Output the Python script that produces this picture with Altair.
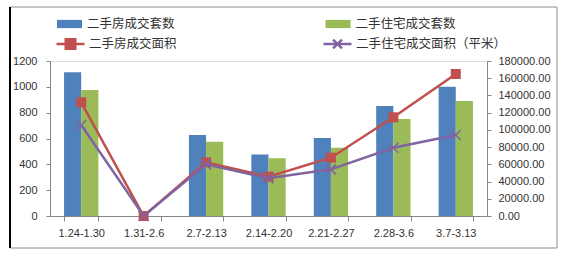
import altair as alt
import pandas as pd

categories = ["1.24-1.30", "1.31-2.6", "2.7-2.13", "2.14-2.20", "2.21-2.27", "2.28-3.6", "3.7-3.13"]
house_sets = [1112, 0, 627, 477, 604, 852, 1001]
resi_sets = [975, 0, 575, 447, 529, 751, 890]
house_area = [132000, 0, 62300, 45700, 67700, 114600, 164900]
resi_area = [105700, 0, 60000, 43800, 54200, 79300, 94000]
bar_series = ["二手房成交套数", "二手住宅成交套数"]
line_series = ["二手房成交面积", "二手住宅成交面积（平米）"]
left_ticks = [0, 200, 400, 600, 800, 1000, 1200]
right_ticks = [0, 20000, 40000, 60000, 80000, 100000, 120000, 140000, 160000, 180000]

BLUE, GREEN, RED, PURPLE = "#4F81BD", "#9BBB59", "#C0504D", "#8064A2"
AXIS_GRAY = "#868686"
TXT = "#333333"
FONT = "Liberation Sans"
CJK = "Noto Sans CJK SC"

bars_df = pd.DataFrame({
    "cat": categories * 2,
    "series": [bar_series[0]] * len(categories) + [bar_series[1]] * len(categories),
    "value": house_sets + resi_sets,
})
red_df = pd.DataFrame({"cat": categories, "s": line_series[0], "value": house_area})
purple_df = pd.DataFrame({"cat": categories, "s2": line_series[1], "value": resi_area})

xscale = alt.Scale(domain=categories, paddingInner=0.45, paddingOuter=0.225)
x_axis = alt.Axis(title=None, tickBand="extent", labelAngle=0, grid=False,
                  domainColor=AXIS_GRAY, tickColor=AXIS_GRAY, tickSize=5,
                  labelFont=FONT, labelFontSize=11, labelColor=TXT, labelPadding=6)
area_scale = alt.Scale(domain=[0, 180000])

leg_common = dict(orient="none", title=None, padding=0, labelFont=CJK, labelFontSize=12.5,
                  labelColor=TXT)

bars = alt.Chart(bars_df).mark_bar().encode(
    x=alt.X("cat:N", scale=xscale, axis=x_axis),
    xOffset=alt.XOffset("series:N", scale=alt.Scale(domain=bar_series, paddingInner=0, paddingOuter=0)),
    y=alt.Y("value:Q", scale=alt.Scale(domain=[0, 1200]),
            axis=alt.Axis(title=None, values=left_ticks, format="d", grid=False, domainColor=AXIS_GRAY,
                          tickColor=AXIS_GRAY, tickSize=4, labelPadding=9, labelFont=FONT,
                          labelFontSize=11, labelColor=TXT)),
    color=alt.Color("series:N", scale=alt.Scale(domain=bar_series, range=[BLUE, GREEN]),
                    legend=alt.Legend(legendX=6, legendY=-50.5, columns=2, columnPadding=149.5,
                                      labelOffset=4,
                                      symbolType="M-1,-0.33H1V0.33H-1Z", symbolSize=625,
                                      symbolOpacity=1, **leg_common)),
)

red_line = alt.Chart(red_df).mark_line(strokeWidth=2.5).encode(
    x=alt.X("cat:N", scale=xscale),
    y=alt.Y("value:Q", scale=area_scale,
            axis=alt.Axis(orient="right", title=None, values=right_ticks, format=".2f", grid=False,
                          domainColor=AXIS_GRAY, tickColor=AXIS_GRAY, tickSize=4, labelPadding=7,
                          labelFont=FONT, labelFontSize=11, labelColor=TXT)),
    stroke=alt.Stroke("s:N", scale=alt.Scale(domain=[line_series[0]], range=[RED]),
                      legend=alt.Legend(legendX=5, legendY=-32.5, symbolSize=784, symbolStrokeWidth=2.5,
                                        labelOffset=3,
                                        symbolType="M-1,0H1M-0.34,-0.34H0.34V0.34H-0.34ZM-0.34,-0.17H0.34M-0.34,0.17H0.34",
                                        **leg_common)),
)
red_pts = alt.Chart(red_df).mark_point(shape="square", filled=True, size=100, color=RED, opacity=1).encode(
    x=alt.X("cat:N", scale=xscale),
    y=alt.Y("value:Q", scale=area_scale, axis=None),
)
purple_line = alt.Chart(purple_df).mark_line(strokeWidth=2.5).encode(
    x=alt.X("cat:N", scale=xscale),
    y=alt.Y("value:Q", scale=area_scale, axis=None),
    stroke=alt.Stroke("s2:N", scale=alt.Scale(domain=[line_series[1]], range=[PURPLE]),
                      legend=alt.Legend(legendX=272, legendY=-32.5, symbolSize=784, symbolStrokeWidth=2.5,
                                        labelOffset=3,
                                        symbolType="M-1,0H1M-0.32,-0.32L0.32,0.32M-0.32,0.32L0.32,-0.32",
                                        **leg_common)),
)
purple_pts = alt.Chart(purple_df).mark_point(shape="M-1,-1L1,1M-1,1L1,-1", filled=False, size=100,
                                             strokeWidth=1.6, color=PURPLE, opacity=1).encode(
    x=alt.X("cat:N", scale=xscale),
    y=alt.Y("value:Q", scale=area_scale, axis=None),
)

frame_data = alt.Data(values=[{"k": 1}])
frame = alt.Chart(frame_data).mark_rect(fill=None, stroke="#8c8c8c", strokeWidth=1).encode(
    x=alt.value(-40), x2=alt.value(507), y=alt.value(-54), y2=alt.value(187)
)
frame_left = alt.Chart(frame_data).mark_rule(color="#000000", strokeWidth=2).encode(
    x=alt.value(-40), y=alt.value(-54), y2=alt.value(187)
)

chart = alt.layer(frame, frame_left, bars, red_line, red_pts, purple_line, purple_pts).resolve_scale(
    y="independent", stroke="independent"
).resolve_legend(stroke="independent").properties(
    width=437, height=155,
    autosize=alt.AutoSizeParams(type="none"),
    padding={"left": 50, "top": 61, "right": 84, "bottom": 41},
).configure_view(stroke=None).configure(background="white")

chart.save("out.html", embed_options={"renderer": "svg", "actions": False})
